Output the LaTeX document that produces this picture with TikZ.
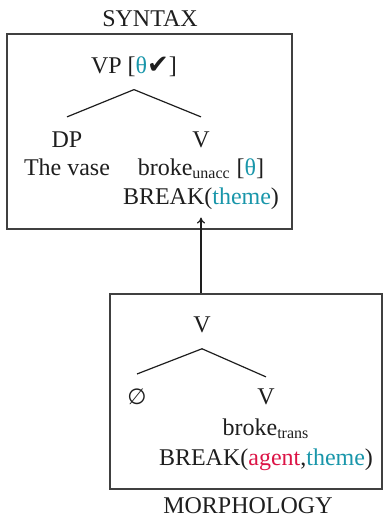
\documentclass[tikz,border=0pt]{standalone}
\usepackage{fontspec}
\setmainfont{Liberation Serif}
\newfontfamily\symfont{DejaVu Sans}
\usetikzlibrary{arrows.meta,positioning}
\definecolor{teal}{RGB}{25,150,170}
\definecolor{crimson}{RGB}{220,20,70}
\definecolor{ink}{RGB}{30,30,30}
\tikzset{
  >={To[length=3pt,width=4pt]},
  lbl/.style={font=\fontsize{12}{14}\selectfont,inner sep=0pt,anchor=base,text=ink},
  frame/.style={draw=ink!85,line width=0.6pt,minimum width=#1,minimum height=97.5pt,inner sep=0pt},
  branch/.style={draw=ink,line width=0.6pt},
}
\newcommand{\throle}{\textcolor{teal}{θ}}
\begin{document}
\begin{tikzpicture}[x=0.5pt,y=-0.5pt]
  \useasboundingbox (0,0) rectangle (383,516);
  % syntax box
  \node[frame=142.5pt] (sbox) at (149.5,131.5) {};
  \node[lbl] (syn) at (150,26) {SYNTAX};
  \node[lbl] (vp) at (134,73) {VP [\throle{\symfont\fontsize{13}{15}\selectfont ✔}]};
  \node[lbl] (dp) at (67,147) {DP};
  \node[lbl] (v1) at (201,147) {V};
  \node[lbl] (vase) at (67,175) {The vase};
  \node[lbl] (broke1) at (201,175) {broke\textsubscript{unacc} [\throle]};
  \node[lbl] (break1) at (201,204) {BREAK(\textcolor{teal}{theme})};
  \draw[branch] ([yshift=-6.5pt]vp.south) -- ([yshift=7pt]dp.north);
  \draw[branch] ([yshift=-6.5pt]vp.south) -- ([yshift=7pt]v1.north);
  % morphology box
  \node[frame=136pt] (mbox) at (246,391.5) {};
  \node[lbl] (morph) at (248,513) {MORPHOLOGY};
  \node[lbl] (vm) at (202,332) {V};
  \node[lbl] (null) at (137,404) {{\symfont\fontsize{11}{13}\selectfont ∅}};
  \node[lbl] (v2) at (266,404) {V};
  \node[lbl] (broke2) at (266,435) {broke\textsubscript{trans}};
  \node[lbl] (break2) at (266,465) {BREAK(\textcolor{crimson}{agent},\textcolor{teal}{theme})};
  \draw[branch] ([yshift=-8pt]vm.south) -- ([yshift=7pt]null.north);
  \draw[branch] ([yshift=-8pt]vm.south) -- ([yshift=5.5pt]v2.north);
  % mapping
  \draw[->,draw=ink,line width=0.6pt] (mbox.north -| break1.south) -- ([yshift=-4pt]break1.south);
\end{tikzpicture}
\end{document}
